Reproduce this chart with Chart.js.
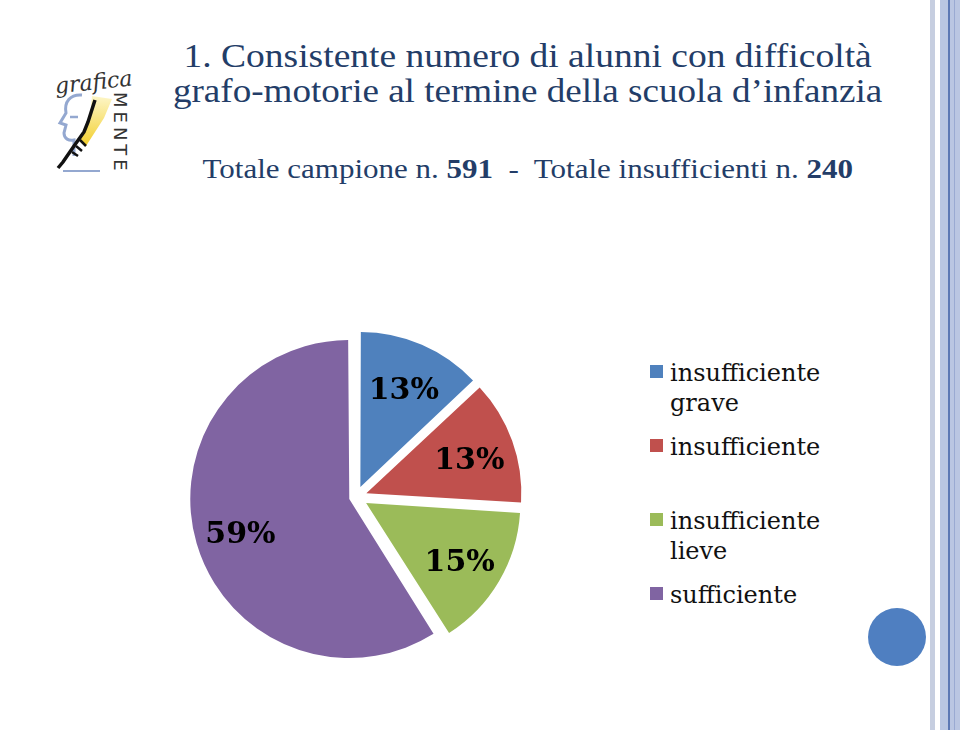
<!DOCTYPE html>
<html>
<head>
    <script src="https://cdn.jsdelivr.net/npm/chart.js@4.4.0/dist/chart.umd.min.js"></script>
    <style>
        body { margin: 0; background: #fff; }
        .slide { position: relative; width: 960px; height: 730px; overflow: hidden; background: #fff; }
        .title { position: absolute; left: 130px; width: 796px; text-align: center; color: #233d68; font-family: "Liberation Serif", serif; white-space: nowrap; }
        .title span { display: inline-block; transform-origin: center; }
        .t1 { top: 39px; font-size: 33px; line-height: 35px; }
        .sub { top: 153px; font-size: 28px; line-height: 32px; }
        .chart-box { position: absolute; left: 146px; top: 297px; width: 420px; height: 400px; }
        .legend { position: absolute; left: 650px; top: 358px; margin: 0; padding: 0; list-style: none; font-family: "DejaVu Serif", serif; font-size: 24px; line-height: 30px; color: #111; }
        .legend li { position: relative; height: 74px; width: 190px; padding-left: 20px; box-sizing: border-box; }
        .legend i { position: absolute; left: 0; top: 7px; width: 13px; height: 13px; }
        .dot { position: absolute; left: 868px; top: 608px; width: 58px; height: 58px; border-radius: 50%; background: #4f7fc1; }
        .stripe { position: absolute; top: 0; height: 730px; }
    </style>
</head>
<body>
<div class="slide">
    <!-- logo -->
    <svg style="position:absolute;left:0;top:0" width="160" height="200">
        <defs>
            <linearGradient id="yel" x1="0" y1="0" x2="0" y2="1">
                <stop offset="0" stop-color="#fdf6c8"/>
                <stop offset="1" stop-color="#f2cf2e"/>
            </linearGradient>
        </defs>
        <path d="M82 95 C70 94 64 102 66 113 L60 123 L66 125 L64 133 C64 139 69 141 74 140 L74 156" fill="none" stroke="#94a8d0" stroke-width="3"/>
        <line x1="70" y1="117" x2="78" y2="117" stroke="#94a8d0" stroke-width="2.5"/>
        <polygon points="92,96 112,99 104,118 86,146 79,140 90,118" fill="url(#yel)"/>
        <path d="M95 100 L88 122 L84 132 L74 146 L63 162 L58 168" fill="none" stroke="#111" stroke-width="3.5"/>
        <path d="M80 140 L86 146 M76 146 L82 151 M72 152 L78 156" stroke="#111" stroke-width="2.5"/>
        <line x1="63" y1="171" x2="100" y2="171" stroke="#94a8d0" stroke-width="2"/>
        <text x="55" y="91" font-family="DejaVu Serif" font-style="italic" font-size="22" fill="#333" transform="rotate(-6 80 85)">grafica</text>
        <text x="92" y="-114" font-family="DejaVu Sans" font-size="18" letter-spacing="4" fill="#333" transform="rotate(90)">MENTE</text>
    </svg>

    <div class="title t1"><span data-w="688">1. Consistente numero di alunni con difficoltà</span><br><span data-w="709">grafo-motorie al termine della scuola d’infanzia</span></div>
    <div class="title sub"><span data-w="651">Totale campione n. <b>591</b> &nbsp;-&nbsp; Totale insufficienti n. <b>240</b></span></div>

    <div class="chart-box"><canvas id="pie"></canvas></div>
    <ul class="legend" id="legend"></ul>

    <div class="dot"></div>
    <div class="stripe" style="left:930px;width:5px;background:#c6cee0"></div>
    <div class="stripe" style="left:940px;width:20px;background:#bac6e2"></div>
    <div class="stripe" style="left:948px;width:2px;background:#5d78b4"></div>
    <div class="stripe" style="left:954px;width:1px;background:#9aaad2"></div>
</div>

<script>
    const categories = ['insufficiente grave', 'insufficiente', 'insufficiente lieve', 'sufficiente'];
    const percentages = [13, 13, 15, 59];
    const colors = ['#4f81bd', '#c0504d', '#9bbb59', '#8064a2'];
    // every slice pulled out about 14px (chart.js scales offset by slice size)
    const explode = [44, 44, 47, 28];

    // fit title lines to the measured widths
    document.querySelectorAll('.title span').forEach(el => {
        const w = +el.dataset.w;
        el.style.transform = 'scaleX(' + (w / el.offsetWidth) + ')';
    });

    // percent labels inside slices
    const sliceLabels = {
        id: 'sliceLabels',
        afterDatasetsDraw(chart) {
            const ctx = chart.ctx;
            const meta = chart.getDatasetMeta(0);
            ctx.save();
            ctx.font = 'bold 30px "DejaVu Serif"';
            ctx.fillStyle = '#000';
            ctx.textAlign = 'center';
            ctx.textBaseline = 'middle';
            meta.data.forEach((arc, i) => {
                const p = arc.getProps(['x', 'y', 'startAngle', 'endAngle', 'outerRadius', 'circumference']);
                const mid = (p.startAngle + p.endAngle) / 2;
                const off = explode[i] / 4 * (2 - Math.sin(Math.min(Math.PI, p.circumference)));
                const d = p.outerRadius * 0.7 + off;
                ctx.fillText(percentages[i] + '%', p.x + Math.cos(mid) * d, p.y + Math.sin(mid) * d + 5);
            });
            ctx.restore();
        }
    };

    const chart = new Chart(document.getElementById('pie'), {
        type: 'pie',
        data: {
            labels: categories,
            datasets: [{
                data: percentages,
                backgroundColor: colors,
                borderWidth: 0,
                offset: explode,
                radius: 152
            }]
        },
        options: {
            responsive: true,
            maintainAspectRatio: false,
            animation: false,
            layout: { padding: 0 },
            plugins: {
                legend: { display: false },
                tooltip: { enabled: false }
            }
        },
        plugins: [sliceLabels]
    });

    // legend on the right
    const legend = document.getElementById('legend');
    categories.forEach((c, i) => {
        const li = document.createElement('li');
        li.innerHTML = '<i style="background:' + colors[i] + '"></i>' + c;
        legend.appendChild(li);
    });
</script>
</body>
</html>
